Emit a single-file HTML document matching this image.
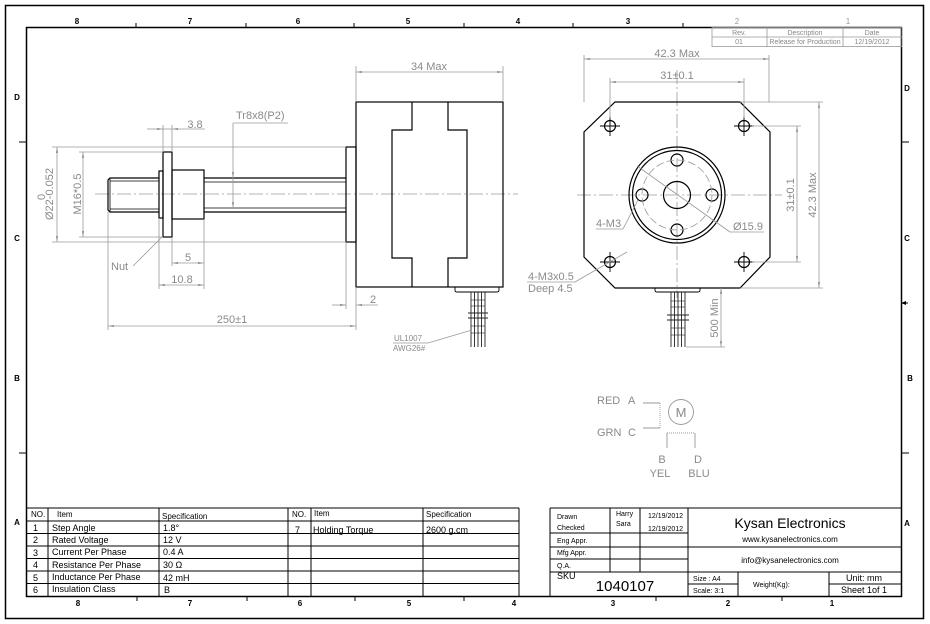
<!DOCTYPE html>
<html><head><meta charset="utf-8"><style>
html,body{margin:0;padding:0;background:#fff;}
svg{display:block;}
text{font-family:"Liberation Sans",Arial,sans-serif;}
.d{fill:#8a8a8a;font-size:11px;}
.k{fill:#000;}
.dim{stroke:#9a9a9a;stroke-width:0.8;fill:none;}
.ln{stroke:#000;stroke-width:1.2;fill:none;}
.cl{stroke:#9a9a9a;stroke-width:0.8;fill:none;stroke-dasharray:14 3 2 3;}
.z{font-size:8px;font-weight:bold;fill:#000;}
.t{fill:#000;font-size:9px;}
.s{fill:#000;font-size:7px;}
.tb{stroke:#000;stroke-width:1;fill:none;}
.rv{stroke:#999;stroke-width:0.8;fill:none;}
</style></head><body>
<svg width="930" height="624" viewBox="0 0 930 624" xmlns="http://www.w3.org/2000/svg">
<defs>
<marker id="a" viewBox="0 0 10 4" refX="10" refY="2" markerWidth="6" markerHeight="2.4" markerUnits="userSpaceOnUse" orient="auto-start-reverse"><path d="M0,0 L10,2 L0,4z" fill="#999"/></marker>
</defs>
<rect x="0" y="0" width="930" height="624" fill="#fff"/>
<!-- frames -->
<rect x="5.5" y="5.5" width="918" height="613" fill="none" stroke="#000" stroke-width="1.5"/>
<rect x="26.5" y="27.5" width="875" height="569" fill="none" stroke="#000" stroke-width="1.5"/>
<!-- zone ticks -->
<g stroke="#000" stroke-width="1">
<line x1="136" y1="23" x2="136" y2="27"/><line x1="246" y1="23" x2="246" y2="27"/><line x1="354" y1="23" x2="354" y2="27"/><line x1="464" y1="23" x2="464" y2="27"/><line x1="573" y1="23" x2="573" y2="27"/><line x1="683" y1="23" x2="683" y2="27"/>
<line x1="137" y1="597" x2="137" y2="601"/><line x1="247" y1="597" x2="247" y2="601"/><line x1="355" y1="597" x2="355" y2="601"/><line x1="464" y1="597" x2="464" y2="601"/><line x1="656" y1="597" x2="656" y2="601"/><line x1="782" y1="597" x2="782" y2="601"/>
<line x1="902" y1="142" x2="909" y2="142"/><line x1="902" y1="453" x2="909" y2="453"/>
<line x1="19" y1="142" x2="26" y2="142"/><line x1="19" y1="453" x2="26" y2="453"/>
</g>
<path d="M901,303 L906,301 L906,305z" fill="#000"/>
<line x1="904" y1="303" x2="908" y2="303" stroke="#000" stroke-width="1"/>
<g class="z" text-anchor="middle">
<text x="77" y="24">8</text><text x="190" y="24">7</text><text x="298" y="24">6</text><text x="408" y="24">5</text><text x="518" y="24">4</text><text x="628" y="24">3</text><text x="737" y="24" style="fill:#999;font-weight:normal">2</text><text x="848" y="24" style="fill:#999;font-weight:normal">1</text>
<text x="78" y="606">8</text><text x="190" y="606">7</text><text x="300" y="606">6</text><text x="409" y="606">5</text><text x="514" y="606">4</text><text x="613" y="606">3</text><text x="728" y="606">2</text><text x="832" y="606">1</text>
<text x="17" y="100">D</text><text x="17" y="241">C</text><text x="17" y="381">B</text><text x="17" y="525">A</text>
<text x="907" y="91">D</text><text x="907" y="241">C</text><text x="910" y="381">B</text><text x="907" y="526">A</text>
</g>
<!-- revision table -->
<g class="rv">
<rect x="712" y="27.5" width="190" height="19"/>
<line x1="712" y1="37" x2="902" y2="37"/>
<line x1="767" y1="27.5" x2="767" y2="46.5"/>
<line x1="843" y1="27.5" x2="843" y2="46.5"/>
</g>
<g fill="#888" font-size="7" text-anchor="middle">
<text x="739" y="35">Rev.</text><text x="805" y="35">Description</text><text x="872" y="35">Date</text>
<text x="739" y="44">01</text><text x="805" y="44">Release for Production</text><text x="872" y="44">12/19/2012</text>
</g>

<!-- ============ SIDE VIEW ============ -->
<line class="cl" x1="95" y1="194" x2="518" y2="194"/>
<g class="ln">
<path d="M159,178 L110,178 L108,180 L108,210 L110,212 L159,212"/>
<line x1="110" y1="178" x2="110" y2="212" stroke-width="0.8"/>
<line x1="110" y1="181" x2="159" y2="181" stroke-width="0.7"/>
<line x1="110" y1="209" x2="159" y2="209" stroke-width="0.7"/>
<rect x="159" y="171" width="4" height="47"/>
<rect x="163" y="152" width="9" height="85"/>
<rect x="172" y="170" width="32" height="49"/>
<line x1="204" y1="178" x2="346" y2="178"/>
<line x1="204" y1="182" x2="346" y2="182" stroke-width="0.8"/>
<line x1="204" y1="208" x2="346" y2="208" stroke-width="0.8"/>
<line x1="204" y1="212" x2="346" y2="212"/>
<rect x="346" y="147" width="10" height="95"/>
<rect x="356" y="102" width="147" height="185"/>
<path d="M412,102 L412,130 L392,130 L392,258 L412,258 L412,287"/>
<path d="M448,102 L448,130 L467,130 L467,258 L448,258 L448,287"/>
<path d="M455,287 L455,290 Q455,292 457,292 L497,292 Q499,292 499,290 L499,287" stroke-width="0.9"/>
</g>
<g stroke="#222" stroke-width="0.9">
<line x1="471" y1="292" x2="471" y2="347"/><line x1="474.5" y1="292" x2="474.5" y2="347"/><line x1="478" y1="292" x2="478" y2="347"/><line x1="481.5" y1="292" x2="481.5" y2="347"/><line x1="485" y1="292" x2="485" y2="347"/>
<line x1="468" y1="313" x2="488" y2="313"/><line x1="468" y1="318" x2="488" y2="318"/>
<line x1="471" y1="300" x2="485" y2="300" stroke-width="0.6"/><line x1="471" y1="306" x2="485" y2="306" stroke-width="0.6"/>
<line x1="471" y1="326" x2="485" y2="326" stroke-width="0.6"/><line x1="471" y1="333" x2="485" y2="333" stroke-width="0.6"/>
</g>
<g class="dim">
<line x1="356" y1="66" x2="356" y2="102"/><line x1="503" y1="66" x2="503" y2="102"/>
<line x1="356" y1="72" x2="503" y2="72" marker-start="url(#a)" marker-end="url(#a)"/>
<line x1="163" y1="125" x2="163" y2="152"/><line x1="172" y1="125" x2="172" y2="152"/>
<line x1="147" y1="129" x2="163" y2="129" marker-end="url(#a)"/>
<line x1="205" y1="129" x2="172" y2="129" marker-end="url(#a)"/>
<line x1="163" y1="129" x2="172" y2="129"/>
<line x1="233" y1="123" x2="288" y2="123"/>
<line x1="233" y1="123" x2="233" y2="178" marker-end="url(#a)"/>
<line x1="233" y1="178" x2="233" y2="208" marker-end="url(#a)"/>
<line x1="52" y1="147" x2="346" y2="147"/><line x1="52" y1="242" x2="346" y2="242"/>
<line x1="57" y1="147" x2="57" y2="242" marker-start="url(#a)" marker-end="url(#a)"/>
<line x1="79" y1="152" x2="163" y2="152"/><line x1="79" y1="237" x2="163" y2="237"/>
<line x1="83" y1="152" x2="83" y2="237" marker-start="url(#a)" marker-end="url(#a)"/>
<line x1="172" y1="237" x2="172" y2="266"/>
<line x1="204" y1="219" x2="204" y2="289"/>
<line x1="159" y1="218" x2="159" y2="289"/>
<line x1="172" y1="263" x2="204" y2="263" marker-start="url(#a)" marker-end="url(#a)"/>
<line x1="159" y1="285" x2="204" y2="285" marker-start="url(#a)" marker-end="url(#a)"/>
<line x1="133" y1="266" x2="162" y2="237"/>
<line x1="108" y1="212" x2="108" y2="330"/>
<line x1="356" y1="287" x2="356" y2="330"/>
<line x1="108" y1="326" x2="356" y2="326" marker-start="url(#a)" marker-end="url(#a)"/>
<line x1="346" y1="242" x2="346" y2="309"/>
<line x1="332" y1="305" x2="346" y2="305" marker-end="url(#a)"/>
<line x1="378" y1="305" x2="356" y2="305" marker-end="url(#a)"/>
<line x1="393" y1="343" x2="428" y2="343"/>
<line x1="428" y1="343" x2="472" y2="330"/>
</g>
<g class="d">
<text x="429" y="70" text-anchor="middle">34 Max</text>
<text x="195" y="128" text-anchor="middle">3.8</text>
<text x="236" y="119">Tr8x8(P2)</text>
<text x="53" y="194" transform="rotate(-90 53 194)" text-anchor="middle">Ø22-0.052</text>
<text x="45" y="200" transform="rotate(-90 45 200)">0</text>
<text x="81" y="194" transform="rotate(-90 81 194)" text-anchor="middle">M16*0.5</text>
<text x="188" y="261" text-anchor="middle">5</text>
<text x="182" y="283" text-anchor="middle">10.8</text>
<text x="111" y="270">Nut</text>
<text x="232" y="323" text-anchor="middle">250±1</text>
<text x="373" y="303" text-anchor="middle">2</text>
<text x="394" y="341" style="font-size:8px">UL1007</text>
<text x="393" y="351" style="font-size:8px">AWG26#</text>
</g>

<!-- ============ FRONT VIEW ============ -->
<line class="cl" x1="577" y1="195" x2="782" y2="195"/>
<line class="cl" x1="677" y1="70" x2="677" y2="298"/>
<g class="ln">
<path d="M615,102 L740,102 L770,132 L770,257 L740,288 L615,288 L584,257 L584,132 Z"/>
<circle cx="610" cy="126" r="5.5"/><circle cx="744" cy="126" r="5.5"/><circle cx="610" cy="262" r="5.5"/><circle cx="744" cy="262" r="5.5"/>
<circle cx="677" cy="195" r="48"/>
<circle cx="677" cy="195" r="44.5"/>
<circle cx="677" cy="195" r="13.5"/>
<circle cx="677" cy="160" r="6"/><circle cx="677" cy="230" r="6"/><circle cx="642" cy="195" r="6"/><circle cx="712" cy="195" r="6"/>
<path d="M655,288 L655,290 Q655,292 657,292 L698,292 Q700,292 700,290 L700,288" stroke-width="0.9"/>
</g>
<circle cx="677" cy="195" r="35" fill="none" stroke="#999" stroke-width="0.8" stroke-dasharray="8 3"/>
<g stroke="#000" stroke-width="0.9">
<line x1="600" y1="126" x2="620" y2="126"/><line x1="610" y1="116" x2="610" y2="136"/>
<line x1="734" y1="126" x2="754" y2="126"/><line x1="744" y1="116" x2="744" y2="136"/>
<line x1="600" y1="262" x2="620" y2="262"/><line x1="610" y1="252" x2="610" y2="272"/>
<line x1="734" y1="262" x2="754" y2="262"/><line x1="744" y1="252" x2="744" y2="272"/>
</g>
<g stroke="#222" stroke-width="0.9">
<line x1="671" y1="292" x2="671" y2="347"/><line x1="674.5" y1="292" x2="674.5" y2="347"/><line x1="678" y1="292" x2="678" y2="347"/><line x1="681.5" y1="292" x2="681.5" y2="347"/><line x1="685" y1="292" x2="685" y2="347"/>
<line x1="667" y1="315" x2="689" y2="315"/><line x1="667" y1="320" x2="689" y2="320"/>
<line x1="671" y1="301" x2="685" y2="301" stroke-width="0.6"/><line x1="671" y1="307" x2="685" y2="307" stroke-width="0.6"/>
<line x1="671" y1="328" x2="685" y2="328" stroke-width="0.6"/><line x1="671" y1="335" x2="685" y2="335" stroke-width="0.6"/>
</g>
<g class="dim">
<line x1="584" y1="55" x2="584" y2="102"/><line x1="769" y1="55" x2="769" y2="102"/>
<line x1="584" y1="59" x2="769" y2="59" marker-start="url(#a)" marker-end="url(#a)"/>
<line x1="610" y1="78" x2="610" y2="118"/><line x1="744" y1="78" x2="744" y2="118"/>
<line x1="610" y1="82" x2="744" y2="82" marker-start="url(#a)" marker-end="url(#a)"/>
<line x1="752" y1="126" x2="801" y2="126"/><line x1="752" y1="262" x2="801" y2="262"/>
<line x1="797" y1="126" x2="797" y2="262" marker-start="url(#a)" marker-end="url(#a)"/>
<line x1="740" y1="102" x2="823" y2="102"/><line x1="740" y1="288" x2="823" y2="288"/>
<line x1="819" y1="102" x2="819" y2="288" marker-start="url(#a)" marker-end="url(#a)"/>
<line x1="686" y1="347" x2="725" y2="347"/>
<line x1="721" y1="288" x2="721" y2="347" marker-start="url(#a)" marker-end="url(#a)"/>
<line x1="637" y1="166" x2="730" y2="232"/>
<line x1="730" y1="232" x2="764" y2="232"/>
<line x1="596" y1="229" x2="623" y2="229"/>
<line x1="623" y1="229" x2="638" y2="200"/>
<line x1="527" y1="282" x2="575" y2="282"/>
<line x1="575" y1="282" x2="627" y2="252"/>
</g>
<g class="d">
<text x="677" y="57" text-anchor="middle">42.3 Max</text>
<text x="677" y="79" text-anchor="middle">31±0.1</text>
<text x="794" y="195" transform="rotate(-90 794 195)" text-anchor="middle">31±0.1</text>
<text x="816" y="195" transform="rotate(-90 816 195)" text-anchor="middle">42.3 Max</text>
<text x="718" y="318" transform="rotate(-90 718 318)" text-anchor="middle">500 Min</text>
<text x="733" y="230">Ø15.9</text>
<text x="596" y="227">4-M3</text>
<text x="528" y="280">4-M3x0.5</text>
<text x="528" y="292">Deep 4.5</text>
</g>

<!-- ============ WIRING ============ -->
<g class="d">
<text x="597" y="404">RED</text><text x="628" y="404">A</text>
<text x="597" y="436">GRN</text><text x="628" y="436">C</text>
<text x="681" y="417" text-anchor="middle" style="font-size:13px">M</text>
<text x="662" y="463" text-anchor="middle">B</text><text x="698" y="463" text-anchor="middle">D</text>
<text x="660" y="477" text-anchor="middle">YEL</text><text x="699" y="477" text-anchor="middle">BLU</text>
</g>
<g stroke="#999" stroke-width="0.9" fill="none">
<path d="M643,403 L660,403 M660,428 L643,428"/>
<line x1="660" y1="403" x2="660" y2="428" stroke-dasharray="1 1"/>
<circle cx="681" cy="412" r="12.5"/>
<path d="M667,448 L667,433 M695,433 L695,448"/>
<line x1="667" y1="433" x2="695" y2="433" stroke-dasharray="1 1"/>
</g>

<!-- ============ SPEC TABLE ============ -->
<g class="tb">
<line x1="26" y1="508" x2="519" y2="508"/>
<line x1="519" y1="508" x2="519" y2="596"/>
<line x1="26" y1="521" x2="519" y2="521"/>
<line x1="26" y1="533.5" x2="519" y2="533.5"/>
<line x1="26" y1="546" x2="519" y2="546"/>
<line x1="26" y1="558.5" x2="519" y2="558.5"/>
<line x1="26" y1="571" x2="519" y2="571"/>
<line x1="26" y1="583.5" x2="519" y2="583.5"/>
<line x1="48" y1="508" x2="48" y2="596"/>
<line x1="159" y1="508" x2="159" y2="596"/>
<line x1="288" y1="508" x2="288" y2="596"/>
<line x1="311" y1="508" x2="311" y2="596"/>
<line x1="423" y1="508" x2="423" y2="596"/>
</g>
<g class="k">
<text class="s" x="31" y="517" style="font-size:8px">NO.</text><text class="s" x="57" y="517" style="font-size:8px">Item</text><text class="s" x="162" y="519" style="font-size:8px">Specification</text>
<text class="t" x="33" y="531">1</text><text class="t" x="52" y="531">Step Angle</text><text class="t" x="163" y="531">1.8°</text>
<text class="t" x="33" y="543">2</text><text class="t" x="52" y="543">Rated Voltage</text><text class="t" x="163" y="543">12 V</text>
<text class="t" x="33" y="556">3</text><text class="t" x="52" y="555">Current Per Phase</text><text class="t" x="163" y="555">0.4 A</text>
<text class="t" x="33" y="568">4</text><text class="t" x="52" y="568">Resistance Per Phase</text><text class="t" x="163" y="568">30 Ω</text>
<text class="t" x="33" y="581">5</text><text class="t" x="52" y="580">Inductance Per Phase</text><text class="t" x="163" y="581">42 mH</text>
<text class="t" x="33" y="593">6</text><text class="t" x="52" y="592">Insulation Class</text><text class="t" x="164" y="593">B</text>
<text class="s" x="292" y="517" style="font-size:8px">NO.</text><text class="s" x="314" y="516" style="font-size:8px">Item</text><text class="s" x="426" y="517" style="font-size:8px">Specification</text>
<text class="t" x="295" y="533">7</text><text class="t" x="313" y="533">Holding Torque</text><text class="t" x="426" y="533">2600 g.cm</text>
</g>

<!-- ============ TITLE BLOCK ============ -->
<g class="tb">
<line x1="550" y1="508" x2="902" y2="508"/>
<line x1="550" y1="508" x2="550" y2="596"/>
<line x1="610" y1="508" x2="610" y2="572"/>
<line x1="640" y1="508" x2="640" y2="572"/>
<line x1="688" y1="508" x2="688" y2="596"/>
<line x1="550" y1="533" x2="688" y2="533"/>
<line x1="550" y1="547" x2="902" y2="547"/>
<line x1="550" y1="559" x2="688" y2="559"/>
<line x1="550" y1="572" x2="902" y2="572"/>
<line x1="738" y1="572" x2="738" y2="596"/>
<line x1="829" y1="572" x2="829" y2="596"/>
<line x1="688" y1="584" x2="738" y2="584"/>
<line x1="829" y1="584" x2="902" y2="584"/>
</g>
<g class="k">
<text class="s" x="557" y="519">Drawn</text><text class="s" x="616" y="516">Harry</text><text class="s" x="648" y="518">12/19/2012</text>
<text class="s" x="557" y="530">Checked</text><text class="s" x="616" y="526">Sara</text><text class="s" x="648" y="531">12/19/2012</text>
<text class="s" x="557" y="543">Eng Appr.</text>
<text class="s" x="557" y="555">Mfg Appr.</text>
<text class="s" x="557" y="568">Q.A.</text>
<text x="557" y="579" style="font-size:9px">SKU</text>
<text x="625" y="591" text-anchor="middle" style="font-size:15px">1040107</text>
<text x="790" y="528" text-anchor="middle" style="font-size:14px">Kysan Electronics</text>
<text x="790" y="542" text-anchor="middle" style="font-size:8px">www.kysanelectronics.com</text>
<text x="790" y="563" text-anchor="middle" style="font-size:8px">info@kysanelectronics.com</text>
<text class="s" x="693" y="581">Size : A4</text>
<text class="s" x="693" y="593">Scale: 3:1</text>
<text class="s" x="753" y="587">Weight(Kg):</text>
<text x="864" y="581" text-anchor="middle" style="font-size:9px">Unit: mm</text>
<text x="864" y="593" text-anchor="middle" style="font-size:9px">Sheet 1of 1</text>
</g>
</svg>
</body></html>
